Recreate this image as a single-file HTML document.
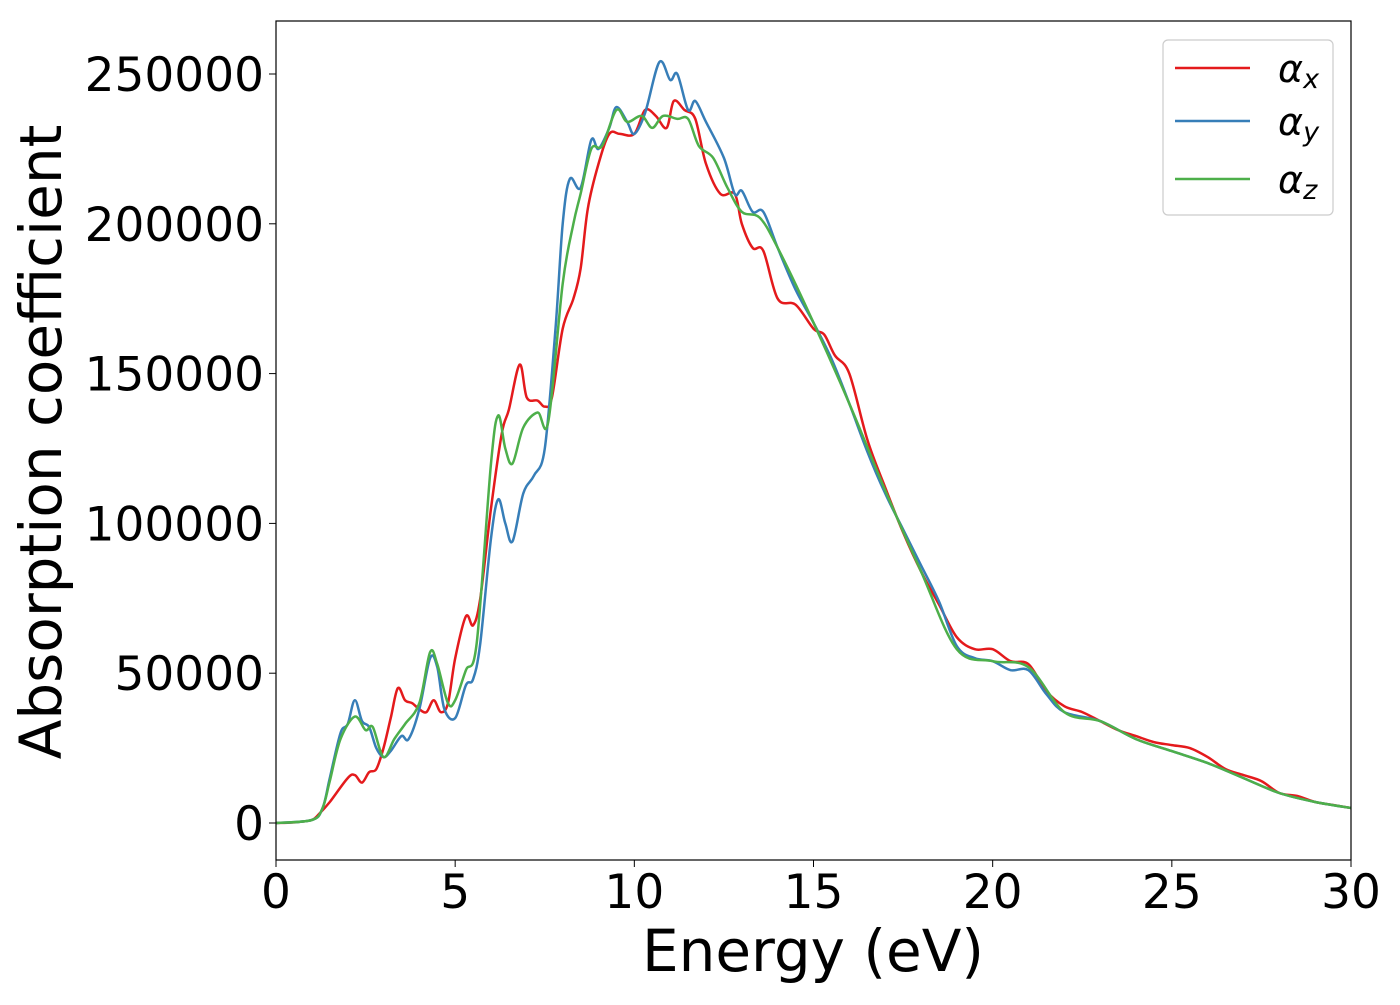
<!DOCTYPE html>
<html><head><meta charset="utf-8"><style>
body{margin:0;background:#fff;}
svg text{font-family:"DejaVu Sans","Liberation Sans",sans-serif;fill:#000;}
</style></head><body>
<svg id="chart" width="1400" height="1000" viewBox="0 0 1400 1000" xmlns="http://www.w3.org/2000/svg">
<g id="plot"></g>
<rect x="276" y="21" width="1075" height="839" fill="none" stroke="#000" stroke-width="1.2"/>
<g id="ticks"></g>
<text x="813" y="971" font-size="58" text-anchor="middle">Energy (eV)</text>
<text transform="translate(61,442) rotate(-90)" font-size="58" text-anchor="middle">Absorption coefficient</text>
<g>
<rect x="1163" y="40" width="170" height="175" rx="5" fill="#fff" stroke="#ccc" stroke-width="1.2"/>
<g><line x1="1175" y1="68" x2="1250" y2="68" stroke="#e41a1c" stroke-width="2.5"/><text x="1278" y="82" font-size="38" font-style="italic">α<tspan font-size="27" dy="6">x</tspan></text></g>
<g><line x1="1175" y1="121" x2="1250" y2="121" stroke="#377eb8" stroke-width="2.5"/><text x="1278" y="135" font-size="38" font-style="italic">α<tspan font-size="27" dy="6">y</tspan></text></g>
<g><line x1="1175" y1="179" x2="1250" y2="179" stroke="#4daf4a" stroke-width="2.5"/><text x="1278" y="193" font-size="38" font-style="italic">α<tspan font-size="27" dy="6">z</tspan></text></g>
</g>
</svg>
<script>
const xTicks=[0,5,10,15,20,25,30];
const yTicks=[0,50000,100000,150000,200000,250000];
const alphaX=[[0,0],[0.5,200],[1,1000],[1.2,3000],[1.5,7000],[2,15000],[2.2,16000],[2.4,13500],[2.6,17000],[2.8,18000],[3,25000],[3.2,35000],[3.4,45000],[3.6,41000],[3.8,40000],[4,38000],[4.2,37000],[4.4,41000],[4.6,37000],[4.8,40000],[5,55000],[5.3,69000],[5.5,66000],[5.7,75000],[6,105000],[6.3,130000],[6.5,138000],[6.8,153000],[7,142000],[7.3,141000],[7.5,139000],[7.7,142000],[8,165000],[8.3,175000],[8.5,185000],[8.7,205000],[9,220000],[9.3,230000],[9.6,230000],[10,230000],[10.3,238000],[10.6,236000],[10.9,232000],[11.1,241000],[11.4,238000],[11.7,235000],[12,220000],[12.4,210000],[12.8,210000],[13,200000],[13.3,192000],[13.6,191000],[14,175000],[14.5,173000],[15,165000],[15.3,163000],[15.6,156000],[16,150000],[16.5,128000],[17,112000],[17.5,97000],[18,84000],[18.5,73000],[19,62000],[19.5,58000],[20,58000],[20.5,54000],[21,53000],[21.5,44000],[22,39000],[22.5,37000],[23,34000],[23.5,31000],[24,29000],[24.5,27000],[25,26000],[25.5,25000],[26,22000],[26.5,18000],[27,16000],[27.5,14000],[28,10000],[28.5,9000],[29,7000],[29.5,6000],[30,5000]];
const alphaY=[[0,0],[1,1000],[1.3,5000],[1.5,15000],[1.8,30000],[2,33000],[2.2,41000],[2.4,34000],[2.6,32000],[2.8,25000],[3,22000],[3.2,24000],[3.5,29000],[3.7,28000],[4,38000],[4.3,55000],[4.5,52000],[4.7,38000],[5,35000],[5.3,46000],[5.5,48000],[5.7,60000],[6,95000],[6.2,108000],[6.4,100000],[6.6,94000],[6.9,110000],[7.2,116000],[7.5,125000],[7.8,165000],[8,200000],[8.2,215000],[8.5,212000],[8.8,228000],[9,225000],[9.3,232000],[9.5,239000],[9.8,234000],[10,230000],[10.3,237000],[10.7,254000],[11,248000],[11.2,250000],[11.5,238000],[11.7,241000],[12,234000],[12.5,222000],[12.8,210000],[13,211000],[13.3,204000],[13.6,204000],[14,192000],[14.5,178000],[15,167000],[15.5,155000],[16,140000],[16.5,124000],[17,110000],[17.5,98000],[18,86000],[18.5,74000],[19,59000],[19.5,55000],[20,54000],[20.5,51000],[21,51000],[21.5,43000],[22,37000],[23,34000],[24,28000],[25,24000],[26,20000],[27,15000],[28,10000],[29,7000],[30,5000]];
const alphaZ=[[0,0],[1,1000],[1.3,5000],[1.5,14000],[1.8,28000],[2.2,35500],[2.5,31000],[2.7,32000],[3,22000],[3.3,28000],[3.6,33000],[4,40000],[4.3,57000],[4.5,53000],[4.8,40000],[5,41000],[5.3,51000],[5.6,60000],[6,120000],[6.2,136000],[6.4,125000],[6.6,120000],[6.9,132000],[7.3,137000],[7.6,134000],[8,180000],[8.3,200000],[8.5,210000],[8.8,225000],[9.1,226000],[9.5,238000],[9.8,234000],[10.2,236000],[10.5,232000],[10.8,236000],[11.2,235000],[11.5,235000],[11.8,226000],[12.2,222000],[12.6,212000],[13,204000],[13.5,202000],[14,192000],[15,167000],[16,140000],[17,111000],[18,84000],[19,58000],[20,54000],[21,52000],[22,37000],[23,34000],[24,28000],[25,24000],[26,20000],[27,15000],[28,10000],[29,7000],[30,5000]];
const NS="http://www.w3.org/2000/svg";
function xs(v){return 276+v*(1075/30);}
function ys(v){return 823-v*(749/250000);}
function smoothPath(d){
  const p=d.map(a=>[xs(a[0]),ys(a[1])]);
  let s="M"+p[0][0].toFixed(1)+","+p[0][1].toFixed(1);
  for(let i=0;i<p.length-1;i++){
    const p0=p[i-1]||p[i],p1=p[i],p2=p[i+1],p3=p[i+2]||p2;
    const c1=[p1[0]+(p2[0]-p0[0])/6,p1[1]+(p2[1]-p0[1])/6];
    const c2=[p2[0]-(p3[0]-p1[0])/6,p2[1]-(p3[1]-p1[1])/6];
    s+="C"+c1.map(v=>v.toFixed(1))+" "+c2.map(v=>v.toFixed(1))+" "+p2[0].toFixed(1)+","+p2[1].toFixed(1);
  }
  return s;
}
const plot=document.getElementById('plot');
[[alphaX,'#e41a1c','line-alpha-x'],[alphaY,'#377eb8','line-alpha-y'],[alphaZ,'#4daf4a','line-alpha-z']].forEach(s=>{
  const el=document.createElementNS(NS,'path');
  el.setAttribute('d',smoothPath(s[0]));
  el.setAttribute('fill','none');el.setAttribute('stroke',s[1]);el.setAttribute('stroke-width','2.5');
  
  
  plot.appendChild(el);
});
const tg=document.getElementById('ticks');
xTicks.forEach(t=>{
  const l=document.createElementNS(NS,'line');
  l.setAttribute('x1',xs(t));l.setAttribute('x2',xs(t));l.setAttribute('y1',860);l.setAttribute('y2',867);l.setAttribute('stroke','#000');
  
  
  tg.appendChild(l);
  const tx=document.createElementNS(NS,'text');
  tx.setAttribute('x',xs(t));tx.setAttribute('y',908);tx.setAttribute('font-size','47');tx.setAttribute('text-anchor','middle');
  tx.textContent=t;
  
  
  tg.appendChild(tx);
});
yTicks.forEach(t=>{
  const l=document.createElementNS(NS,'line');
  l.setAttribute('x1',269);l.setAttribute('x2',276);l.setAttribute('y1',ys(t));l.setAttribute('y2',ys(t));l.setAttribute('stroke','#000');
  
  
  tg.appendChild(l);
  const tx=document.createElementNS(NS,'text');
  tx.setAttribute('x',264);tx.setAttribute('y',ys(t)+17);tx.setAttribute('font-size','47');tx.setAttribute('text-anchor','end');
  tx.textContent=t;
  
  
  tg.appendChild(tx);
});
</script>
</body></html>
